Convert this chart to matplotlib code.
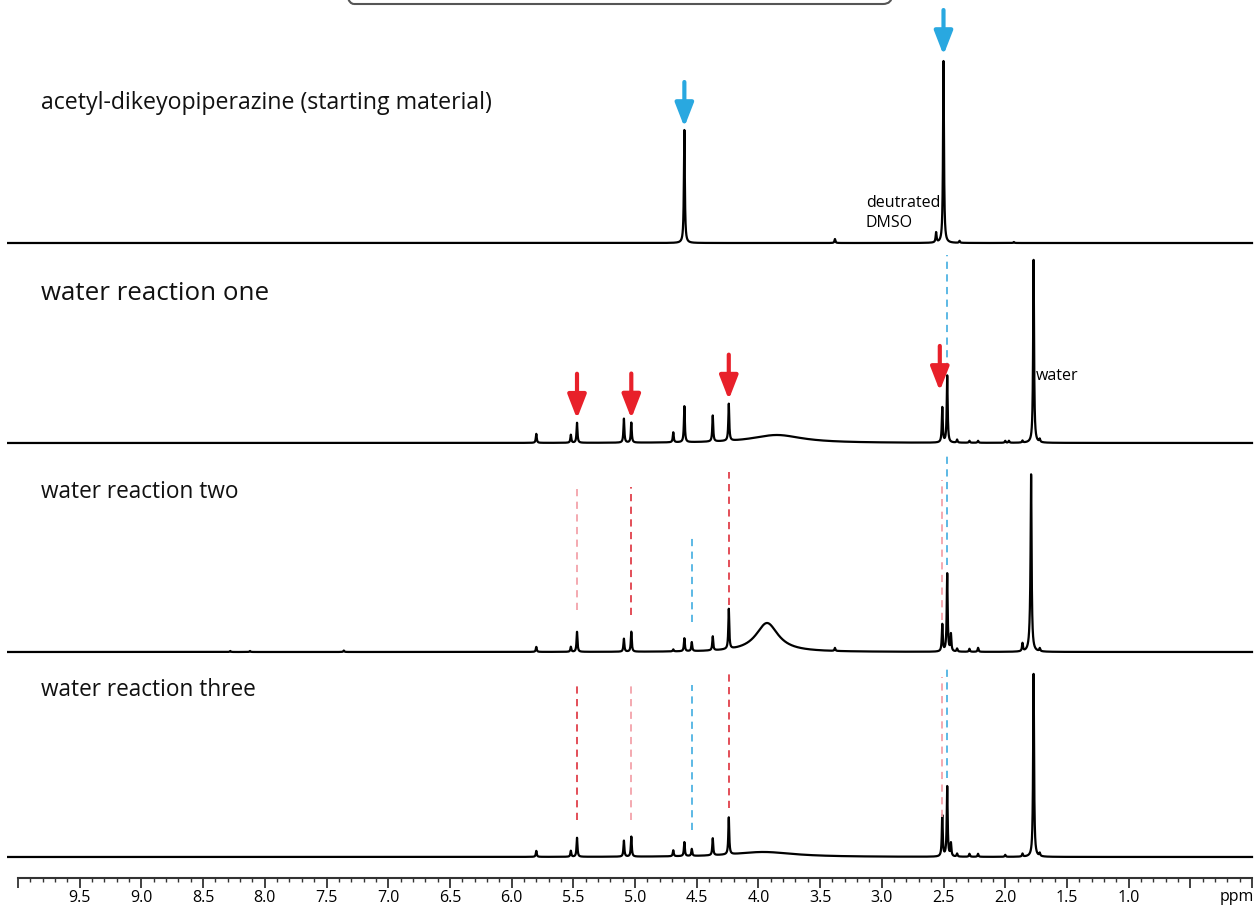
import numpy as np
import matplotlib
matplotlib.use("Agg")
import matplotlib.pyplot as plt
from matplotlib.patches import FancyBboxPatch
from matplotlib.transforms import IdentityTransform

plt.rcParams['font.family'] = ['Open Sans', 'DejaVu Sans']

# ---- data (chemical shift in ppm, peak heights in arbitrary units) ----
trace_names = ["acetyl-dikeyopiperazine (starting material)",
               "water reaction one",
               "water reaction two",
               "water reaction three"]

sm_ppm = [4.60, 2.50, 3.38, 2.56, 2.37, 1.93]
sm_h = [113, 182, 4, 10, 2, 1]
sm_broad = []

r1_ppm = [5.80, 5.52, 5.47, 5.09, 5.03, 4.69, 4.60, 4.37, 4.24,
          2.51, 2.47, 2.39, 2.29, 2.22, 2.00, 1.97, 1.86, 1.77, 1.72]
r1_h = [9, 8, 20, 24, 20, 10, 36, 26, 37,
        35, 67, 3, 2, 2, 2, 2, 2, 183, 3]
r1_broad = [(3.85, 8, 0.25)]

r2_ppm = [8.28, 8.12, 7.36, 5.80, 5.52, 5.47, 5.09, 5.03, 4.69, 4.60, 4.54,
          4.37, 4.24, 3.38, 2.51, 2.47, 2.44, 2.39, 2.29, 2.22, 1.86, 1.79, 1.72]
r2_h = [1, 1, 1.5, 5, 5, 20, 13, 20, 2, 13, 9,
        14, 40, 3, 27, 78, 17, 3, 3, 4, 8, 160, 3]
r2_broad = [(3.93, 29, 0.11), (1.795, 22, 0.01)]

r3_ppm = [5.80, 5.52, 5.47, 5.09, 5.03, 4.69, 4.60, 4.54, 4.37, 4.24,
          2.51, 2.47, 2.44, 2.39, 2.29, 2.22, 2.00, 1.86, 1.77, 1.72]
r3_h = [6, 6, 19, 16, 20, 6, 14, 7, 17, 37,
        41, 70, 13, 3, 3, 3, 2, 3, 183, 3]
r3_broad = [(3.96, 5, 0.3)]

# arrows: (trace index, ppm, gap above peak)
blue_arrows = [(0, 4.60, 3), (0, 2.50, 6)]
red_arrows = [(1, 5.47, 4), (1, 5.03, 4), (1, 4.24, 4), (1, 2.53, 16)]

# dashed guide lines: (trace index, ppm, top, bottom, colour key)
guides = [(1, 2.47, 188, 73, "blue"),
          (2, 5.47, 165, 42, "pink"), (2, 5.03, 165, 37, "red"),
          (2, 4.54, 117, 30, "blue"), (2, 4.24, 180, 47, "red"),
          (2, 2.51, 172, 32, "pink"), (2, 2.47, 197, 87, "blue"),
          (3, 5.47, 172, 37, "red"), (3, 5.03, 171, 37, "pink"),
          (3, 4.54, 172, 27, "blue"), (3, 4.24, 184, 49, "red"),
          (3, 2.51, 180, 40, "pink"), (3, 2.47, 190, 79, "blue")]

guide_colors = {"blue": "#4fb3e3", "red": "#e0404b", "pink": "#f3a3aa"}

offsets = [635, 435, 226, 21]
label_y = [775, 584, 386, 188]
label_size = [16.7, 18.6, 16.3, 16.3]


def spectrum(x, ppm, h, broad, w=0.0045):
    y = np.zeros_like(x)
    for p, a in zip(ppm, h):
        y += a / (1 + ((x - p) / w) ** 2)
    for p, a, bw in broad:
        y += a / (1 + ((x - p) / bw) ** 2)
    return y


x = np.linspace(10.08, 0.0, 40001)
specs = [spectrum(x, sm_ppm, sm_h, sm_broad),
         spectrum(x, r1_ppm, r1_h, r1_broad),
         spectrum(x, r2_ppm, r2_h, r2_broad),
         spectrum(x, r3_ppm, r3_h, r3_broad)]

fig = plt.figure(figsize=(12.58, 9.07), dpi=100)
ax = fig.add_axes([18 / 1258, 29 / 907, 1234 / 1258, 878 / 907])
ax.set_xlim(10, 0)
ax.set_ylim(0, 878)

for i, s in enumerate(specs):
    ax.plot(x, s + offsets[i], color="black", lw=1.6, clip_on=False,
            solid_joinstyle="round")
    ax.text(9.81, label_y[i], trace_names[i], fontsize=label_size[i],
            va="center", ha="left", color="#111111")

# dashed guides
for t, p, top, bot, c in guides:
    ax.plot([p, p], [offsets[t] + bot, offsets[t] + top],
            color=guide_colors[c], lw=1.3, dashes=(4, 3))


def peak_top(t, p):
    idx = np.abs(x - p) < 0.02
    return offsets[t] + specs[t][idx].max()


for arrows, col in [(blue_arrows, "#29a8e0"), (red_arrows, "#e8202a")]:
    for t, p, gap in arrows:
        tip = peak_top(t, p) + gap
        ax.annotate("", xy=(p, tip), xytext=(p, tip + 45),
                    arrowprops=dict(arrowstyle="-|>,head_length=0.9,head_width=0.35",
                                    color=col, lw=3.0, mutation_scale=16,
                                    shrinkA=0, shrinkB=0))

ax.text(3.13, 665, "deutrated\nDMSO", fontsize=11.5, va="center", ha="left",
        linespacing=1.4)
ax.text(1.75, 502, "water", fontsize=11.5, va="center", ha="left")

# axis styling
for sp in ["top", "left", "right"]:
    ax.spines[sp].set_visible(False)
ax.spines["bottom"].set_linewidth(1.5)
ax.spines["bottom"].set_color("#333333")
ax.set_yticks([])
major = np.arange(0, 10.01, 0.5)
ax.set_xticks(major)
ax.set_xticklabels(["" if (m < 0.9 or m > 9.9) else f"{m:.1f}" for m in major],
                   fontsize=11.5)
ax.set_xticks(np.arange(0, 10.01, 0.1), minor=True)
ax.tick_params(axis="x", which="major", length=7, width=1.3, color="#333333",
               pad=2)
ax.tick_params(axis="x", which="minor", length=3, width=1.0, color="#333333")
ax.text(0.12, -19, "ppm", fontsize=11.5, ha="center", va="center")

# title box cut off at the top of the figure
box = FancyBboxPatch((345, 903), 547, 40,
                     boxstyle="round,pad=0,rounding_size=9",
                     transform=IdentityTransform(), fill=False,
                     edgecolor="#555555", lw=1.5)
fig.patches.append(box)

fig.savefig("out.png", dpi=100)
